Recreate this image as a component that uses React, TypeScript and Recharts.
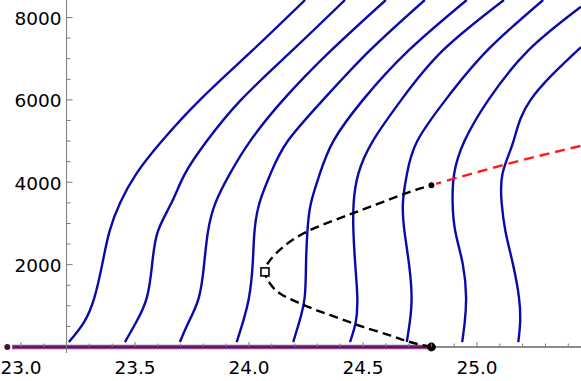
import React from 'react';
import { ComposedChart, Line, Scatter, XAxis, YAxis, ReferenceLine } from 'recharts';

const X_MIN = 22.908;
const X_MAX = 25.456;
const Y_MIN = 0;
const Y_MAX = 8425;
const Y_AXIS_AT = 23.2;

const X_TICKS = [23.0, 23.1, 23.2, 23.3, 23.4, 23.5, 23.6, 23.7, 23.8, 23.9, 24.0, 24.1, 24.2, 24.3, 24.4, 24.5, 24.6, 24.7, 24.8, 24.9, 25.0, 25.1, 25.2, 25.3, 25.4];
const X_MAJOR = [23.0, 23.5, 24.0, 24.5, 25.0];
const X_LABELS = ['23.0', '23.5', '24.0', '24.5', '25.0'];
const Y_TICKS = [0, 500, 1000, 1500, 2000, 2500, 3000, 3500, 4000, 4500, 5000, 5500, 6000, 6500, 7000, 7500, 8000];
const Y_MAJOR = [2000, 4000, 6000, 8000];
const Y_LABELS = ['2000', '4000', '6000', '8000'];

type P = [number, number];
const curve1: P[] = [[23.21,120],[23.276,600],[23.322,1200],[23.356,2000],[23.388,2800],[23.435,3500],[23.507,4214],[23.618,5000],[23.785,6000],[24.015,7200],[24.246,8425]];
const curve2: P[] = [[23.456,120],[23.505,600],[23.552,1200],[23.575,2000],[23.6,2800],[23.66,3500],[23.72,4214],[23.815,5000],[23.965,6000],[24.19,7200],[24.421,8425]];
const curve3: P[] = [[23.697,120],[23.735,600],[23.78,1200],[23.803,2000],[23.82,2800],[23.853,3500],[23.917,4214],[24.005,5000],[24.15,6000],[24.36,7200],[24.6,8425]];
const curve4: P[] = [[23.946,120],[23.973,600],[24.0,1200],[24.016,2000],[24.024,2800],[24.046,3500],[24.095,4214],[24.17,5000],[24.325,6000],[24.53,7200],[24.771,8425]];
const curve5: P[] = [[24.194,120],[24.22,600],[24.244,1200],[24.25,2000],[24.256,2800],[24.272,3500],[24.311,4214],[24.37,5000],[24.5,6000],[24.7,7200],[24.955,8425]];
const curve6: P[] = [[24.443,120],[24.468,600],[24.475,1200],[24.466,2000],[24.458,2800],[24.459,3500],[24.48,4214],[24.543,5000],[24.668,6000],[24.85,7200],[25.118,8425]];
const curve7: P[] = [[24.692,120],[24.705,600],[24.713,1200],[24.702,2000],[24.682,2800],[24.675,3500],[24.693,4214],[24.738,5000],[24.862,6000],[25.045,7200],[25.29,8425]];
const curve8: P[] = [[24.935,120],[24.946,600],[24.952,1200],[24.938,2000],[24.905,2800],[24.893,3500],[24.9,4214],[24.945,5000],[25.05,6000],[25.225,7200],[25.456,8260]];
const curve9: P[] = [[25.181,120],[25.189,600],[25.184,1200],[25.158,2000],[25.125,2800],[25.108,3500],[25.112,4214],[25.16,5000],[25.235,6000],[25.456,7280]];
const BLUE_CURVES = [curve1, curve2, curve3, curve4, curve5, curve6, curve7, curve8, curve9];

const unstableBranch: P[] = [[24.8,0],[24.706,122],[24.618,284],[24.501,486],[24.399,690],[24.297,892],[24.209,1094],[24.136,1298],[24.092,1541],[24.07,1823],[24.092,2107],[24.15,2430],[24.238,2756],[24.355,3038],[24.472,3281],[24.589,3524],[24.706,3767],[24.8,3930]];
const redBranch: P[] = [[24.8,3930],[25.13,4440],[25.456,4885]];
const purpleBranch: P[] = [[22.94,0],[24.8,0]];
const zeroRight: P[] = [[24.8,0],[25.456,0]];
const bifDots: P[] = [[24.8,0],[24.8,3930]];
const foldPoint: P[] = [[24.07,1823]];

const toObj = (arr: P[]) => arr.map(([x, y]) => ({ x, y }));

const BLUE = '#0a0aaa';
const AXIS_GRAY = '#7a7a7a';
const FONT = 'DejaVu Sans, sans-serif';

const XTick = (props: any) => {
  const { x, y, payload } = props;
  const v = payload.value as number;
  const idx = X_MAJOR.findIndex((m) => Math.abs(m - v) < 1e-6);
  const major = idx >= 0;
  return (
    <g>
      <line x1={x} x2={x} y1={y} y2={y - (major ? 5 : 3.5)} stroke={AXIS_GRAY} strokeWidth={1} />
      {major && (
        <text x={x} y={y + 26.5} textAnchor="middle" fontFamily={FONT} fontSize={18.5} fill="#000">
          {X_LABELS[idx]}
        </text>
      )}
    </g>
  );
};

const YTickShape = (props: any) => {
  const { cx, cy, payload } = props;
  const v = payload.y as number;
  const idx = Y_MAJOR.indexOf(v);
  const major = idx >= 0;
  return (
    <g>
      {v === 0 ? (
        <line x1={cx} x2={cx} y1={cy} y2={cy + 6} stroke={AXIS_GRAY} strokeWidth={1} />
      ) : (
        <line x1={cx} x2={cx + (major ? 6 : 4)} y1={cy} y2={cy} stroke={AXIS_GRAY} strokeWidth={1} />
      )}
      {major && (
        <text x={cx - 5} y={cy + 7.3} textAnchor="end" fontFamily={FONT} fontSize={18.5} fill="#000">
          {Y_LABELS[idx]}
        </text>
      )}
    </g>
  );
};

const SquareShape = (props: any) => (
  <rect x={props.cx - 4} y={props.cy - 4} width={8} height={8} fill="#fff" stroke="#000" strokeWidth={1.6} />
);

export default function App() {
  return (
    <div style={{ position: 'absolute', left: 0, top: 0, background: '#fff' }}>
      <ComposedChart width={581} height={381} margin={{ top: 0, right: 0, bottom: 0, left: 0 }}>
        <XAxis
          type="number"
          dataKey="x"
          domain={[X_MIN, X_MAX]}
          ticks={X_TICKS}
          interval={0}
          height={34}
          axisLine={false}
          tickLine={false}
          tickSize={0}
          tickMargin={0}
          tick={<XTick />}
        />
        <YAxis type="number" dataKey="y" domain={[Y_MIN, Y_MAX]} hide />
        <ReferenceLine x={Y_AXIS_AT} stroke={AXIS_GRAY} strokeWidth={1} />
        <Scatter data={Y_TICKS.map((y) => ({ x: Y_AXIS_AT, y }))} shape={YTickShape} isAnimationActive={false} />
        <Line data={toObj(purpleBranch)} dataKey="y" type="linear" stroke="#9a3c9a" strokeWidth={4.5} strokeLinecap="butt" dot={false} isAnimationActive={false} />
        <Line data={toObj(purpleBranch)} dataKey="y" type="linear" stroke="#401640" strokeWidth={1.3} strokeLinecap="butt" dot={false} isAnimationActive={false} />
        <Line data={toObj(zeroRight)} dataKey="y" type="linear" stroke="#1a1a1a" strokeWidth={1.2} dot={false} isAnimationActive={false} />
        {BLUE_CURVES.map((c, i) => (
          <Line key={i} data={toObj(c)} dataKey="y" type="natural" stroke={BLUE} strokeWidth={2.4} dot={false} isAnimationActive={false} />
        ))}
        <Line data={toObj(unstableBranch)} dataKey="y" type="natural" stroke="#000" strokeWidth={2.4} strokeDasharray="9 5" dot={false} isAnimationActive={false} />
        <Line data={toObj(redBranch)} dataKey="y" type="natural" stroke="#ff1a1a" strokeWidth={2.4} strokeDasharray="10 6" dot={false} isAnimationActive={false} />
        <Line data={toObj(bifDots)} dataKey="y" type="linear" stroke="none" dot={{ r: 4.4, fill: '#000', stroke: 'none' }} isAnimationActive={false} />
        <Scatter data={toObj(foldPoint)} shape={SquareShape} isAnimationActive={false} />
      </ComposedChart>
    </div>
  );
}
